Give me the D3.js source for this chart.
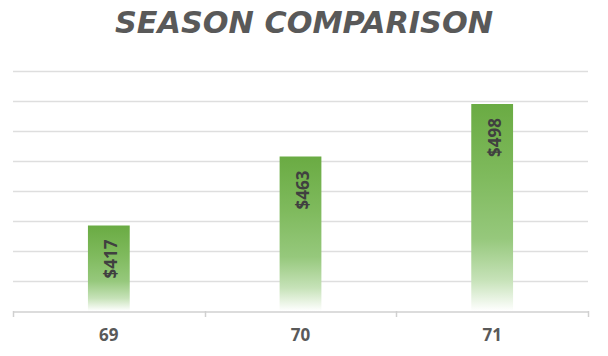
<!DOCTYPE html>
<html><head><meta charset="utf-8">
<script src="https://cdn.jsdelivr.net/npm/d3@7"></script>
<style>body{margin:0;background:#fff}svg{display:block}</style>
</head><body>
<svg id="c" width="608" height="356"></svg>
<script>
const title = "SEASON COMPARISON";
const categories = ["69", "70", "71"];
const values = [417, 463, 498];
const labels = ["$417", "$463", "$498"];
const yTicks = [360, 380, 400, 420, 440, 460, 480, 500, 520];

(function () {
const svg = d3.select("#c");
const mLeft = 13, mRight = 588, mTop = 71, mBottom = 311;
const x = d3.scaleBand().domain(categories).range([mLeft, mRight]).padding(0);
const y = d3.scaleLinear().domain([360, 520]).range([mBottom, mTop]);

const defs = svg.append("defs");
const g = defs.append("linearGradient").attr("id", "grad").attr("x1", 0).attr("y1", 0).attr("x2", 0).attr("y2", 1);
[[0, "#6aab43"], [0.35, "#7fba5d"], [0.65, "#96c87c"], [0.85, "#c6e2b8"], [1, "#ffffff"]].forEach(([o, c]) =>
  g.append("stop").attr("offset", o).attr("stop-color", c));

// gridlines
svg.append("g").selectAll("line").data(yTicks.slice(1)).join("line")
  .attr("x1", mLeft).attr("x2", mRight)
  .attr("y1", d => Math.round(y(d)) + 0.5).attr("y2", d => Math.round(y(d)) + 0.5)
  .attr("stroke", "#dedede").attr("stroke-width", 1.5);

// bars
const bw = x.bandwidth() * 0.218;
svg.append("g").selectAll("rect").data(values).join("rect")
  .attr("x", (d, i) => x(categories[i]) + x.bandwidth() / 2 - bw / 2)
  .attr("y", d => y(d))
  .attr("width", bw)
  .attr("height", d => mBottom - y(d))
  .attr("fill", "url(#grad)");

// x axis
const xAxis = d3.axisBottom(x).tickSize(0).tickPadding(17);
const ax = svg.append("g").attr("transform", `translate(0,${mBottom + 0.5})`).call(xAxis);
ax.select(".domain").attr("stroke", "#d0d0d0").attr("stroke-width", 1.5);
ax.selectAll("text").attr("font-family", "Open Sans, Liberation Sans, sans-serif")
  .attr("font-weight", "bold").attr("font-size", 17).attr("fill", "#595959");
// category boundary ticks
const bounds = categories.map(c => x(c)).concat([mRight]);
svg.append("g").selectAll("line").data(bounds).join("line")
  .attr("x1", d => Math.round(d) + 0.5).attr("x2", d => Math.round(d) + 0.5)
  .attr("y1", mBottom).attr("y2", mBottom + 6)
  .attr("stroke", "#d0d0d0").attr("stroke-width", 1.5);

// labels
svg.append("g").selectAll("text").data(values).join("text")
  .attr("transform", (d, i) => `translate(${x(categories[i]) + x.bandwidth() / 2 + 2},${y(d) + 14}) rotate(-90)`)
  .attr("text-anchor", "end").attr("dominant-baseline", "central")
  .attr("font-family", "Open Sans, Liberation Sans, sans-serif").attr("font-weight", "bold")
  .attr("font-size", 17).attr("fill", "#404040")
  .text((d, i) => labels[i]);

// title
svg.append("text").attr("x", 304).attr("y", 33).attr("text-anchor", "middle")
  .attr("font-family", "DejaVu Sans, sans-serif").attr("font-weight", "bold").attr("font-style", "italic")
  .attr("font-size", 31).attr("fill", "#595959")
  .attr("textLength", 378).attr("lengthAdjust", "spacingAndGlyphs")
  .text(title);
})();
</script>
</body></html>
